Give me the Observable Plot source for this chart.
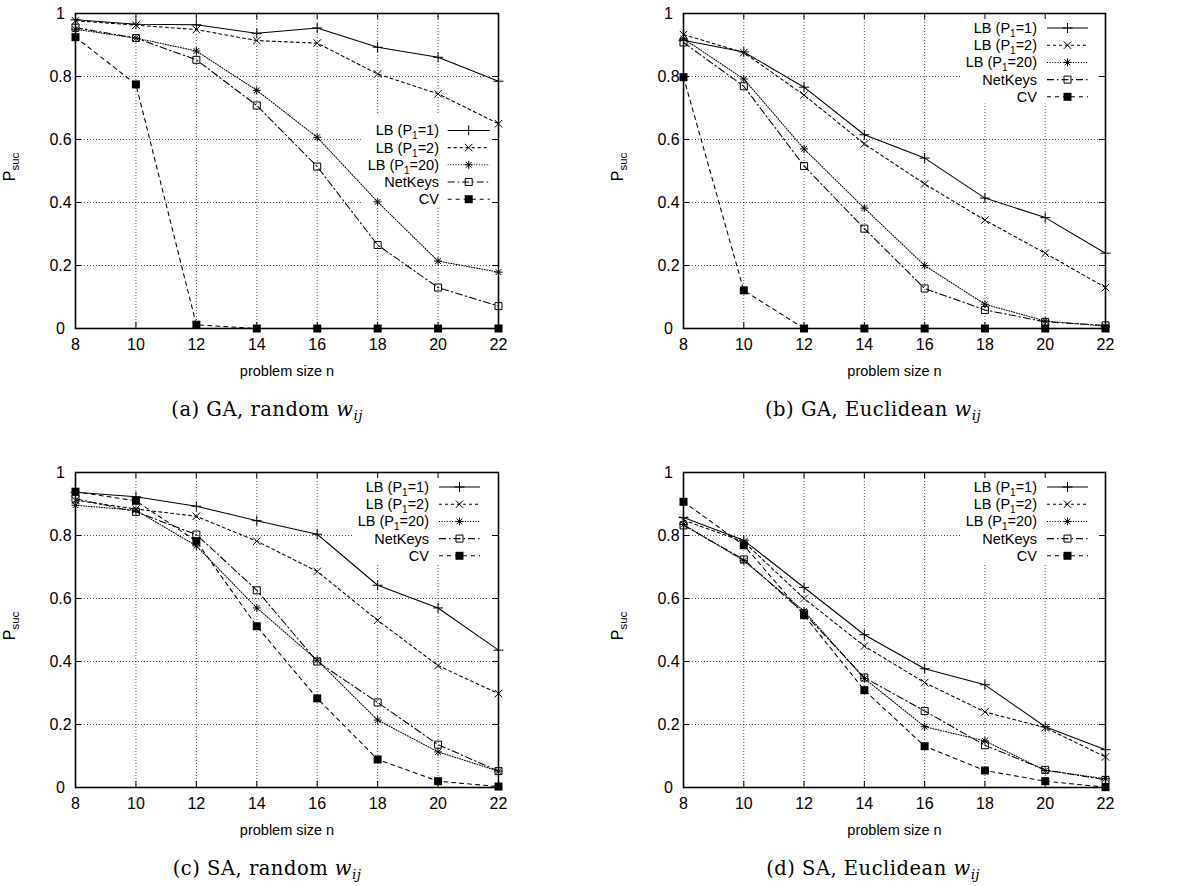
<!DOCTYPE html>
<html>
<head>
<meta charset="utf-8">
<script src="https://cdn.jsdelivr.net/npm/d3@7"></script>
<script src="https://cdn.jsdelivr.net/npm/@observablehq/plot@0.6"></script>
<style>
  html, body { margin: 0; padding: 0; background: #fff; }
  body { width: 1202px; height: 886px; position: relative; overflow: hidden; }
  .panel { position: absolute; }
  .cap {
    position: absolute; width: 400px; text-align: center; white-space: nowrap;
    font-family: "DejaVu Serif", "Liberation Serif", serif; font-size: 19.5px;
    line-height: 1; letter-spacing: 0.5px; color: #000;
  }
  .cap sub { font-size: 0.7em; vertical-align: -0.3em; line-height: 0; letter-spacing: 0.3px; }
</style>
</head>
<body>
<div id="root"></div>
<script>
// ---------- data ----------
const problemSizes = [8, 10, 12, 14, 16, 18, 20, 22];
const yTickValues = [0, 0.2, 0.4, 0.6, 0.8, 1];
const seriesNames = ["LB (P1=1)", "LB (P1=2)", "LB (P1=20)", "NetKeys", "CV"];

// (a) GA, random w_ij
const gaRandomLB1     = [0.980, 0.966, 0.964, 0.937, 0.954, 0.893, 0.861, 0.785];
const gaRandomLB2     = [0.977, 0.963, 0.949, 0.914, 0.906, 0.808, 0.745, 0.650];
const gaRandomLB20    = [0.950, 0.922, 0.881, 0.756, 0.607, 0.402, 0.214, 0.179];
const gaRandomNetKeys = [0.955, 0.922, 0.853, 0.708, 0.514, 0.265, 0.130, 0.071];
const gaRandomCV      = [0.925, 0.775, 0.012, 0, 0, 0, 0, 0];

// (b) GA, Euclidean w_ij
const gaEuclidLB1     = [0.915, 0.878, 0.766, 0.615, 0.541, 0.414, 0.352, 0.239];
const gaEuclidLB2     = [0.933, 0.876, 0.741, 0.586, 0.459, 0.344, 0.239, 0.130];
const gaEuclidLB20    = [0.920, 0.792, 0.570, 0.382, 0.200, 0.077, 0.024, 0.007];
const gaEuclidNetKeys = [0.908, 0.769, 0.516, 0.317, 0.127, 0.059, 0.021, 0.010];
const gaEuclidCV      = [0.798, 0.121, 0, 0, 0, 0, 0, 0];

// (c) SA, random w_ij
const saRandomLB1     = [0.937, 0.923, 0.893, 0.847, 0.804, 0.642, 0.570, 0.436];
const saRandomLB2     = [0.912, 0.884, 0.861, 0.782, 0.686, 0.531, 0.387, 0.298];
const saRandomLB20    = [0.896, 0.880, 0.767, 0.570, 0.404, 0.214, 0.113, 0.052];
const saRandomNetKeys = [0.917, 0.875, 0.803, 0.626, 0.400, 0.270, 0.136, 0.052];
const saRandomCV      = [0.939, 0.910, 0.782, 0.512, 0.283, 0.089, 0.020, 0.003];

// (d) SA, Euclidean w_ij
const saEuclidLB1     = [0.857, 0.785, 0.635, 0.485, 0.377, 0.326, 0.193, 0.120];
const saEuclidLB2     = [0.849, 0.780, 0.600, 0.449, 0.333, 0.240, 0.190, 0.097];
const saEuclidLB20    = [0.835, 0.720, 0.560, 0.346, 0.193, 0.148, 0.054, 0.028];
const saEuclidNetKeys = [0.832, 0.724, 0.553, 0.349, 0.243, 0.134, 0.056, 0.024];
const saEuclidCV      = [0.907, 0.769, 0.547, 0.309, 0.131, 0.054, 0.020, 0.001];

const panelCaptions = [
  ["(a) GA, random ", "w", "ij"],
  ["(b) GA, Euclidean ", "w", "ij"],
  ["(c) SA, random ", "w", "ij"],
  ["(d) SA, Euclidean ", "w", "ij"]
];

// ---------- symbols (gnuplot point types) ----------
const rOf = size => Math.sqrt(size / Math.PI);
const plusSym = { draw(c, s) { const r = rOf(s); c.moveTo(-r, 0); c.lineTo(r, 0); c.moveTo(0, -r); c.lineTo(0, r); } };
const timesSym = { draw(c, s) { const a = rOf(s) * 0.75; c.moveTo(-a, -a); c.lineTo(a, a); c.moveTo(-a, a); c.lineTo(a, -a); } };
const starSym = { draw(c, s) { const r = rOf(s) * 0.8, a = rOf(s) * 0.58;
  c.moveTo(-r, 0); c.lineTo(r, 0); c.moveTo(0, -r); c.lineTo(0, r);
  c.moveTo(-a, -a); c.lineTo(a, a); c.moveTo(-a, a); c.lineTo(a, -a); } };
const squareSym = { draw(c, s) { const h = rOf(s) * 0.7; c.rect(-h, -h, 2 * h, 2 * h); } };
const filledSquareSym = { draw(c, s) { const h = rOf(s) * 0.8; c.rect(-h, -h, 2 * h, 2 * h); } };

const styles = [
  { dash: null,       sym: plusSym,         fill: "none",  stroke: "#000" },
  { dash: "3,3",      sym: timesSym,        fill: "none",  stroke: "#000" },
  { dash: "1,1.6",    sym: starSym,         fill: "none",  stroke: "#000" },
  { dash: "7,3,1.5,3", sym: squareSym,      fill: "none",  stroke: "#000" },
  { dash: "4,4",      sym: filledSquareSym, fill: "#000",  stroke: "none" }
];

const panels = [
  { left: 0,   top: 0,   width: 600, ml: 75, mr: 102, series: [gaRandomLB1, gaRandomLB2, gaRandomLB20, gaRandomNetKeys, gaRandomCV],
    legend: { textRight: 364, y0: 117.4, s1: 372.7, s2: 414.7 }, mask: { x1: 287.7, y1: 100, y2: 194 }, capCenter: 267, capTop: 400 },
  { left: 600, top: 0,   width: 602, ml: 83, mr: 97,  series: [gaEuclidLB1, gaEuclidLB2, gaEuclidLB20, gaEuclidNetKeys, gaEuclidCV],
    legend: { textRight: 354, y0: 15, s1: 364, s2: 405 }, mask: { x1: 277.4, y1: 0, y2: 90 }, capCenter: 873, capTop: 400 },
  { left: 0,   top: 459, width: 600, ml: 75, mr: 102, series: [saRandomLB1, saRandomLB2, saRandomLB20, saRandomNetKeys, saRandomCV],
    legend: { textRight: 354, y0: 15, s1: 364, s2: 405 }, mask: { x1: 277.4, y1: 0, y2: 92 }, capCenter: 267, capTop: 859 },
  { left: 600, top: 459, width: 602, ml: 83, mr: 97,  series: [saEuclidLB1, saEuclidLB2, saEuclidLB20, saEuclidNetKeys, saEuclidCV],
    legend: { textRight: 354, y0: 15, s1: 364, s2: 405 }, mask: { x1: 277.4, y1: 0, y2: 92 }, capCenter: 873, capTop: 859 }
];

const H = 385, MT = 13, MB = 57;
const FONT = "'Liberation Sans', Arial, Helvetica, sans-serif";
const fmtY = d => d === 0 ? "0" : d === 1 ? "1" : d.toFixed(1);

const root = document.getElementById("root");

panels.forEach((p, pi) => {
  const fw = p.width - p.ml - p.mr;
  const fh = H - MT - MB;
  const rows = [];
  p.series.forEach((vals, si) => vals.forEach((v, i) => rows.push({ n: problemSizes[i], v, s: si })));

  const gridStyle = { stroke: "#000", strokeOpacity: 0.75, strokeWidth: 0.9, strokeDasharray: "1,2" };
  const marks = [
    Plot.ruleX(problemSizes, { x: d => d, ...gridStyle }),
    Plot.ruleY(yTickValues, { y: d => d, ...gridStyle }),
    // white area behind the key (gnuplot hides the grid there)
    Plot.frame({ fill: "white", stroke: null, insetLeft: p.mask.x1, insetRight: 2, insetTop: p.mask.y1 + 1, insetBottom: fh - p.mask.y2 }),
    // inward ticks on all four sides
    Plot.ruleX(problemSizes, { x: d => d, insetTop: fh - 6, stroke: "#000" }),
    Plot.ruleX(problemSizes, { x: d => d, insetBottom: fh - 6, stroke: "#000" }),
    Plot.ruleY(yTickValues, { y: d => d, insetRight: fw - 6, stroke: "#000" }),
    Plot.ruleY(yTickValues, { y: d => d, insetLeft: fw - 6, stroke: "#000" })
  ];
  styles.forEach((st, si) => {
    const d = rows.filter(r => r.s === si);
    marks.push(Plot.line(d, { x: "n", y: "v", stroke: "#000", strokeWidth: 1.05, strokeDasharray: st.dash || undefined }));
  });
  styles.forEach((st, si) => {
    const d = rows.filter(r => r.s === si);
    marks.push(Plot.dot(d, { x: "n", y: "v", r: 5, symbol: st.sym, fill: st.fill, stroke: st.stroke, strokeWidth: 1 }));
  });
  marks.push(
    Plot.frame({ stroke: "#000", strokeWidth: 1.6 }),
    Plot.text(problemSizes, { x: d => d, frameAnchor: "bottom", dy: 10, lineAnchor: "top", fontSize: 16, fill: "#000" }),
    Plot.text(yTickValues, { y: d => d, text: fmtY, frameAnchor: "left", dx: -15, textAnchor: "middle", lineAnchor: "middle", fontSize: 16, fill: "#000" }),
    Plot.text(["problem size n"], { frameAnchor: "bottom", dy: 47, lineAnchor: "bottom", fontSize: 14.5, fill: "#000" })
  );

  const svg = Plot.plot({
    width: p.width, height: H,
    marginLeft: p.ml, marginRight: p.mr, marginTop: MT, marginBottom: MB,
    x: { type: "linear", domain: [8, 22], axis: null },
    y: { type: "linear", domain: [0, 1], axis: null },
    style: { fontFamily: FONT, background: "white", overflow: "visible", color: "#000" },
    marks
  });

  const s = d3.select(svg);
  // y label P_suc
  const yl = s.append("text")
    .attr("transform", `translate(${p.ml - 60},${MT + 154}) rotate(-90)`)
    .attr("text-anchor", "middle").attr("font-size", 16).attr("font-family", FONT).attr("fill", "#000");
  yl.append("tspan").text("P");
  yl.append("tspan").attr("font-size", 11.5).attr("dy", 4).text("suc");

  // key
  const lg = s.append("g").attr("font-family", FONT).attr("font-size", 14.5).attr("fill", "#000");
  seriesNames.forEach((name, si) => {
    const cy = MT + p.legend.y0 + si * 17.2;
    const t = lg.append("text").attr("x", p.ml + p.legend.textRight).attr("y", cy + 5).attr("text-anchor", "end");
    const m = name.match(/^(LB \(P)1(=\d+\))$/);
    if (m) {
      t.append("tspan").text(m[1]);
      t.append("tspan").attr("font-size", 10).attr("dy", 4).text("1");
      t.append("tspan").attr("dy", -4).text(m[2]);
    } else t.text(name);
    lg.append("line")
      .attr("x1", p.ml + p.legend.s1).attr("x2", p.ml + p.legend.s2)
      .attr("y1", cy).attr("y2", cy)
      .attr("stroke", "#000").attr("stroke-width", 1.05)
      .attr("stroke-dasharray", styles[si].dash);
    lg.append("path")
      .attr("transform", `translate(${p.ml + (p.legend.s1 + p.legend.s2) / 2},${cy})`)
      .attr("d", d3.symbol(styles[si].sym, 25 * Math.PI)())
      .attr("fill", styles[si].fill).attr("stroke", styles[si].stroke).attr("stroke-width", 1);
  });

  const div = document.createElement("div");
  div.className = "panel";
  div.style.left = p.left + "px";
  div.style.top = p.top + "px";
  div.appendChild(svg);
  root.appendChild(div);

  const cap = document.createElement("div");
  cap.className = "cap";
  cap.style.left = (p.capCenter - 200) + "px";
  cap.style.top = p.capTop + "px";
  const [txt, w, sub] = panelCaptions[pi];
  cap.appendChild(document.createTextNode(txt));
  const wi = document.createElement("i"); wi.textContent = w; cap.appendChild(wi);
  const sb = document.createElement("sub"); const si2 = document.createElement("i"); si2.textContent = sub; sb.appendChild(si2); cap.appendChild(sb);
  root.appendChild(cap);
});
</script>
</body>
</html>
